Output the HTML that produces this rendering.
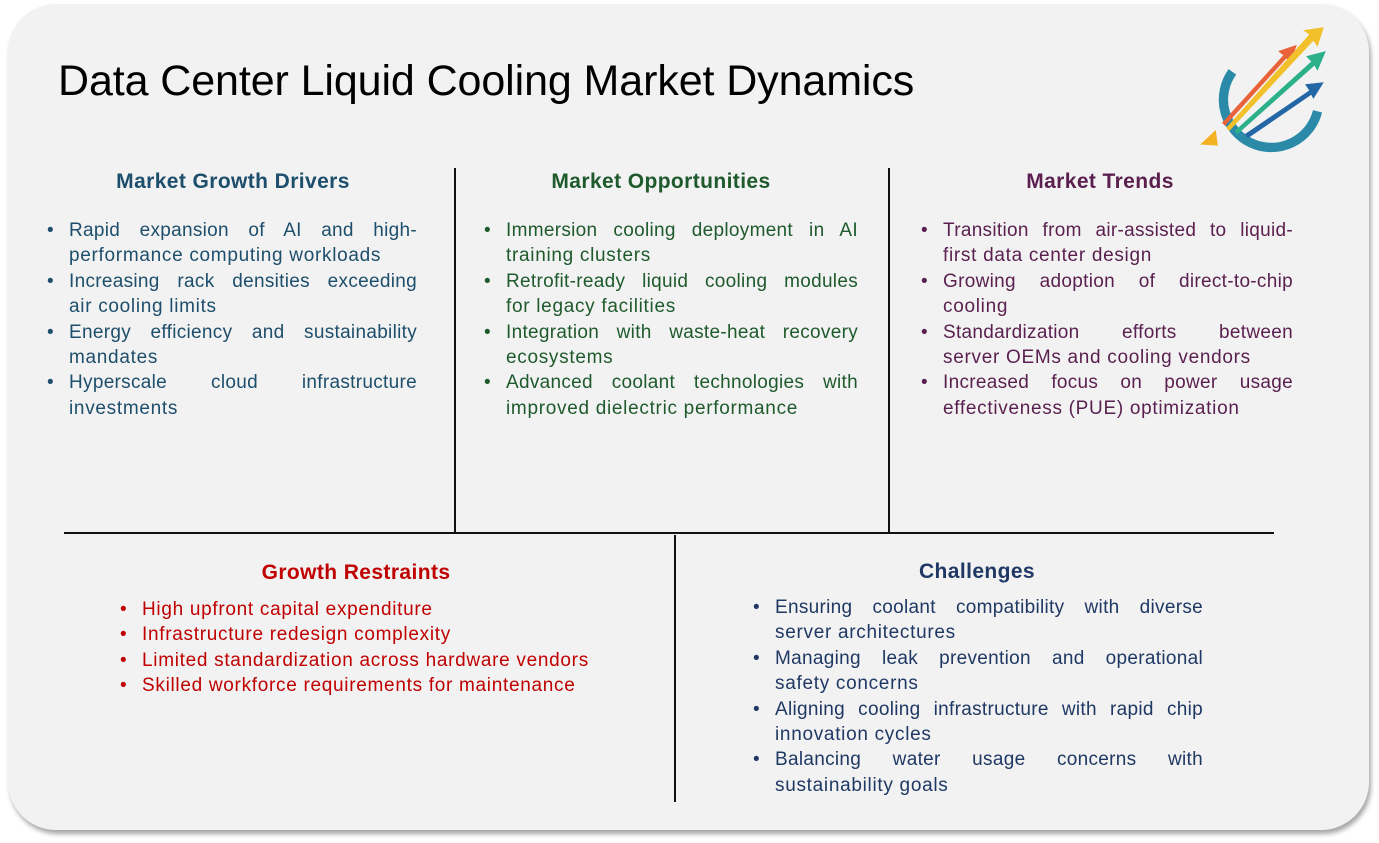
<!DOCTYPE html>
<html><head><meta charset="utf-8"><style>
html,body{margin:0;padding:0;width:1379px;height:843px;background:#fff;overflow:hidden;font-family:"Liberation Sans",sans-serif}
.card{position:absolute;left:8px;top:4px;width:1361px;height:826px;background:#f2f2f2;border-radius:48px;box-shadow:2px 4px 5px rgba(0,0,0,.35)}
.title{position:absolute;left:58px;top:57px;font-size:43px;color:#000;white-space:nowrap;letter-spacing:-0.1px}
.h{position:absolute;font-weight:bold;font-size:21px;letter-spacing:0.4px;text-align:center;white-space:nowrap;transform:translateX(-50%)}
.ln{position:absolute;background:#111}
.col{position:absolute;font-size:19px;letter-spacing:0.7px;line-height:25.4px}
.col div{white-space:nowrap;height:25.4px}
.col .j{text-align:justify;text-align-last:justify;white-space:normal;letter-spacing:0.3px}
.col .b{position:relative}
.col .b:before{content:"•";position:absolute;left:-22px}
</style></head><body>
<div class="card"></div>
<div class="title">Data Center Liquid Cooling Market Dynamics</div>
<svg style="position:absolute;left:1195px;top:22px" width="135" height="135" viewBox="0 0 130 130">
<path d="M36 48 A46 46 0 1 0 118 86" fill="none" stroke="#2a8aa8" stroke-width="9"/>
<polygon points="5,118 20,104 22,119" fill="#f4b223"/>
<polygon points="26,97 85,32 80,28 98,22 92,40 88,35 29,100" fill="#e8623a"/>
<polygon points="30,102 110,12 104,8 124,5 118,24 114,18 33,105" fill="#f2c02a"/>
<polygon points="38,105 112,38 107,33 126,28 118,47 115,42 41,108" fill="#2bb08a"/>
<polygon points="48,108 110,66 106,60 124,58 114,74 112,70 51,112" fill="#2467a6"/>
</svg>
<div class="h" style="left:233px;top:170px;color:#1d4e6b">Market Growth Drivers</div>
<div class="h" style="left:661px;top:170px;color:#1e5a2c">Market Opportunities</div>
<div class="h" style="left:1100px;top:170px;color:#5a1f4e">Market Trends</div>
<div class="h" style="left:356px;top:561px;color:#c00000">Growth Restraints</div>
<div class="h" style="left:977px;top:560px;color:#1f3864">Challenges</div>
<div class="ln" style="left:454px;top:168px;width:2px;height:365px"></div>
<div class="ln" style="left:888px;top:168px;width:2px;height:365px"></div>
<div class="ln" style="left:64px;top:532px;width:1210px;height:2px"></div>
<div class="ln" style="left:674px;top:535px;width:2px;height:267px"></div>
<div class="col" style="left:69px;top:218px;width:348px;color:#1d4e6b">
<div class="j b">Rapid expansion of AI and high-</div><div>performance computing workloads</div>
<div class="j b">Increasing rack densities exceeding</div><div>air cooling limits</div>
<div class="j b">Energy efficiency and sustainability</div><div>mandates</div>
<div class="j b">Hyperscale cloud infrastructure</div><div>investments</div></div>
<div class="col" style="left:506px;top:218px;width:352px;color:#1e5a2c">
<div class="j b">Immersion cooling deployment in AI</div><div>training clusters</div>
<div class="j b">Retrofit-ready liquid cooling modules</div><div>for legacy facilities</div>
<div class="j b">Integration with waste-heat recovery</div><div>ecosystems</div>
<div class="j b">Advanced coolant technologies with</div><div>improved dielectric performance</div></div>
<div class="col" style="left:943px;top:218px;width:350px;color:#5a1f4e">
<div class="j b">Transition from air-assisted to liquid-</div><div>first data center design</div>
<div class="j b">Growing adoption of direct-to-chip</div><div>cooling</div>
<div class="j b">Standardization efforts between</div><div>server OEMs and cooling vendors</div>
<div class="j b">Increased focus on power usage</div><div>effectiveness (PUE) optimization</div></div>
<div class="col" style="left:142px;top:597px;width:470px;color:#c00000">
<div class="b">High upfront capital expenditure</div>
<div class="b">Infrastructure redesign complexity</div>
<div class="b">Limited standardization across hardware vendors</div>
<div class="b">Skilled workforce requirements for maintenance</div></div>
<div class="col" style="left:775px;top:595px;width:428px;color:#1f3864">
<div class="j b">Ensuring coolant compatibility with diverse</div><div>server architectures</div>
<div class="j b">Managing leak prevention and operational</div><div>safety concerns</div>
<div class="j b">Aligning cooling infrastructure with rapid chip</div><div>innovation cycles</div>
<div class="j b">Balancing water usage concerns with</div><div>sustainability goals</div></div>
</body></html>
